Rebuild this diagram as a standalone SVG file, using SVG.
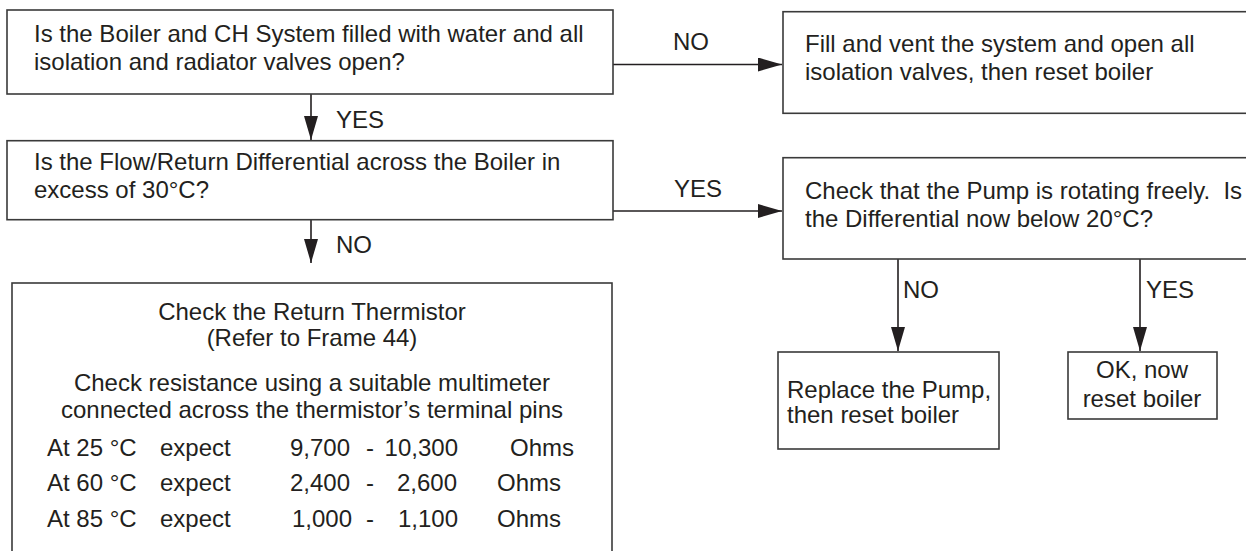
<svg xmlns="http://www.w3.org/2000/svg" width="1246" height="551" viewBox="0 0 1246 551">
<defs>
<style>
.box{fill:#fff;stroke:#3a3a3a;stroke-width:1.6}
.t{font-family:"Liberation Sans",Arial,sans-serif;font-size:24px;fill:#231f20;white-space:pre}
.c{text-anchor:middle}
.e{text-anchor:end}
.ln{stroke:#231f20;stroke-width:1.6;fill:none;marker-end:url(#ah)}
</style>
<marker id="ah" markerUnits="userSpaceOnUse" markerWidth="25" markerHeight="15" refX="24" refY="7" orient="auto">
<path d="M0,0 L24,7 L0,14 z" fill="#231f20"/>
</marker>
</defs>
<rect width="1246" height="551" fill="#fff"/>

<g id="connectors">
<path class="ln" d="M613,64.5 H782"/>
<path class="ln" d="M311,94 V140"/>
<path class="ln" d="M311,220 V263"/>
<path class="ln" d="M613,211 H782"/>
<path class="ln" d="M898,259 V351"/>
<path class="ln" d="M1140,259 V351"/>
<text class="t" x="673" y="50">NO</text>
<text class="t" x="336" y="128">YES</text>
<text class="t" x="336" y="253">NO</text>
<text class="t" x="674" y="197">YES</text>
<text class="t" x="903" y="298">NO</text>
<text class="t" x="1146" y="298">YES</text>
</g>

<g id="q1">
<rect class="box" x="7" y="10" width="606" height="84"/>
<text class="t" x="34" y="41.5">Is the Boiler and CH System filled with water and all</text>
<text class="t" x="34" y="69.5">isolation and radiator valves open?</text>
</g>

<g id="fill">
<rect class="box" x="783" y="11.7" width="480" height="101.6"/>
<text class="t" x="805" y="52">Fill and vent the system and open all</text>
<text class="t" x="805" y="80">isolation valves, then reset boiler</text>
</g>

<g id="q2">
<rect class="box" x="7" y="140.7" width="606" height="79"/>
<text class="t" x="34" y="169.5">Is the Flow/Return Differential across the Boiler in</text>
<text class="t" x="34" y="197.5">excess of 30°C?</text>
</g>

<g id="pump">
<rect class="box" x="783" y="157.7" width="480" height="101.3"/>
<text class="t" x="805" y="199" xml:space="preserve">Check that the Pump is rotating freely.  Is</text>
<text class="t" x="805" y="226.7">the Differential now below 20°C?</text>
</g>

<g id="thermistor">
<rect class="box" x="12" y="283" width="600" height="290"/>
<text class="t c" x="312" y="319.5">Check the Return Thermistor</text>
<text class="t c" x="312" y="346">(Refer to Frame 44)</text>
<text class="t c" x="312" y="390.5">Check resistance using a suitable multimeter</text>
<text class="t c" x="312" y="418">connected across the thermistor’s terminal pins</text>
<text class="t" x="47" y="455.5">At 25 °C</text>
<text class="t" x="160" y="455.5">expect</text>
<text class="t e" x="350" y="455.5">9,700</text>
<text class="t" x="366" y="455.5">-</text>
<text class="t e" x="458" y="455.5">10,300</text>
<text class="t" x="510" y="455.5">Ohms</text>
<text class="t" x="47" y="491">At 60 °C</text>
<text class="t" x="160" y="491">expect</text>
<text class="t e" x="350" y="491">2,400</text>
<text class="t" x="366" y="491">-</text>
<text class="t e" x="457" y="491">2,600</text>
<text class="t" x="497" y="491">Ohms</text>
<text class="t" x="47" y="526.5">At 85 °C</text>
<text class="t" x="160" y="526.5">expect</text>
<text class="t e" x="352" y="526.5">1,000</text>
<text class="t" x="366" y="526.5">-</text>
<text class="t e" x="458" y="526.5">1,100</text>
<text class="t" x="497" y="526.5">Ohms</text>
</g>

<g id="replace">
<rect class="box" x="778" y="352" width="221" height="97"/>
<text class="t" x="787" y="398">Replace the Pump,</text>
<text class="t" x="787" y="423">then reset boiler</text>
</g>

<g id="ok">
<rect class="box" x="1068" y="352" width="149" height="67"/>
<text class="t c" x="1142" y="378">OK, now</text>
<text class="t c" x="1142" y="407">reset boiler</text>
</g>
</svg>
